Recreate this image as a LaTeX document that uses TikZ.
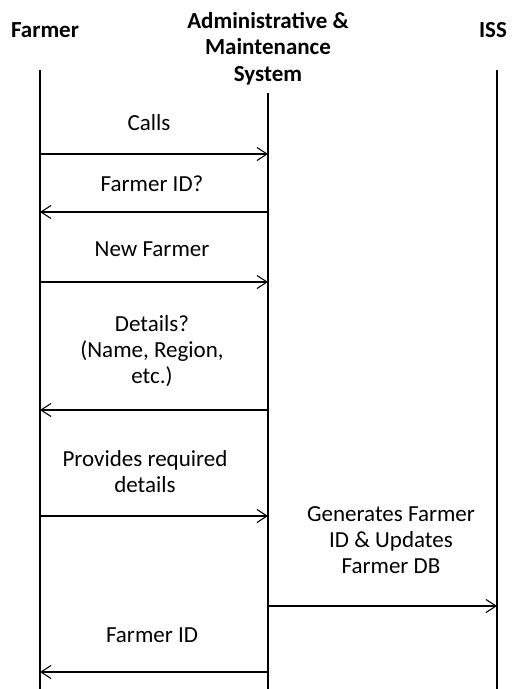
\documentclass[tikz,border=0pt]{standalone}
\usepackage{fontspec}
\setmainfont{Carlito}
\usepackage{tikz}
\usetikzlibrary{arrows.meta}

\tikzset{
  life/.style = {line width=2.4pt},
  msg/.style = {line width=1.3pt, -{Straight Barb[length=10pt,width=13pt,line width=1.1pt]}},
  head/.style = {font=\fontsize{23}{26.5}\selectfont\bfseries, align=center, anchor=base},
  lbl/.style = {font=\fontsize{23}{26}\selectfont, align=center, anchor=base, inner sep=0pt}
}

\begin{document}
\begin{tikzpicture}[x=1pt, y=-1pt]
  \useasboundingbox (0,0) rectangle (513,689);

  % actors (base = last line)
  \node[head] (hfarmer) at (45,37) {Farmer};
  \node[head] (hams) at (268,81) {Administrative \&\\Maintenance\\System};
  \node[head] (hiss) at (493,37) {ISS};

  \coordinate (farmer) at (40,70);
  \coordinate (ams) at (268,93);
  \coordinate (iss) at (497,70);
  \coordinate (farmerend) at (40,689);
  \coordinate (amsend) at (268,689);
  \coordinate (issend) at (497,689);

  \draw[life] (farmer) -- (farmerend);
  \draw[life] (ams) -- (amsend);
  \draw[life] (iss) -- (issend);

  % messages
  \node[lbl] (calls) at (149,130) {Calls};
  \draw[msg] (farmer |- 0,154) -- (ams |- 0,154);

  \node[lbl] (askid) at (152,191) {Farmer ID?};
  \draw[msg] (ams |- 0,212) -- (farmer |- 0,212);

  \node[lbl] (newf) at (152,256) {New Farmer};
  \draw[msg] (farmer |- 0,282) -- (ams |- 0,282);

  \node[lbl] (details) at (152,383) {Details?\\(Name, Region,\\etc.)};
  \draw[msg] (ams |- 0,410) -- (farmer |- 0,410);

  \node[lbl] (provides) at (145,492) {Provides required\\details};
  \draw[msg] (farmer |- 0,516) -- (ams |- 0,516);

  \node[lbl] (gen) at (391,573) {Generates Farmer\\ID \& Updates\\Farmer DB};
  \draw[msg] (ams |- 0,606) -- (iss |- 0,606);

  \node[lbl] (giveid) at (152,642) {Farmer ID};
  \draw[msg] (ams |- 0,672) -- (farmer |- 0,672);

\end{tikzpicture}
\end{document}
